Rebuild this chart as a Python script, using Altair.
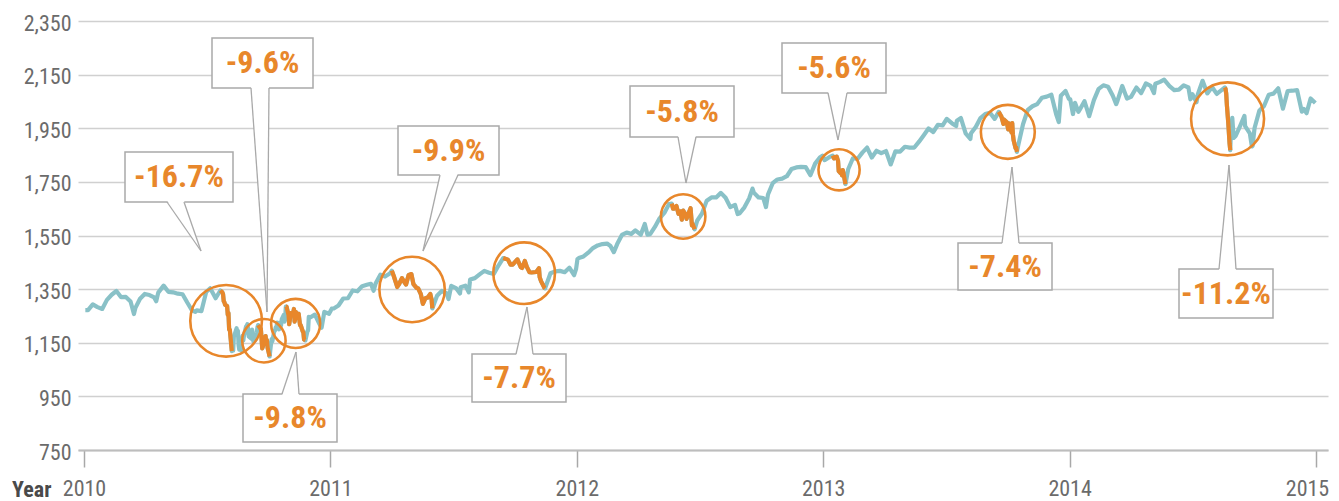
import altair as alt
import pandas as pd
import numpy as np

# ---------------- data ----------------
years = [2010, 2011, 2012, 2013, 2014]

days_2010 = ["01-03", "01-07", "01-14", "01-21", "01-28", "02-04", "02-11", "02-18", "02-25", "03-04", "03-11", "03-16", "03-18", "03-25",
             "04-01", "04-08", "04-15", "04-18", "04-21", "04-29", "05-06", "05-13", "05-20", "05-27", "06-03", "06-10", "06-15", "06-17",
             "06-24", "07-01", "07-07", "07-15",
             "07-22", "07-25", "07-26", "07-27", "07-28", "07-29", "08-01", "08-02", "08-03", "08-04", "08-05", "08-08",
             "08-09", "08-10", "08-11", "08-12", "08-15", "08-16", "08-17", "08-18", "08-19", "08-22", "08-23", "08-24", "08-25", "08-26",
             "08-29", "08-30", "08-31", "09-01", "09-02", "09-06", "09-07", "09-08", "09-09", "09-12", "09-13", "09-14", "09-15",
             "09-16", "09-19", "09-20", "09-21", "09-22", "09-23", "09-26", "09-27", "09-28", "09-29", "09-30", "10-03",
             "10-04", "10-05", "10-06", "10-07", "10-10", "10-11", "10-12", "10-13", "10-14", "10-17", "10-18", "10-19", "10-20", "10-21",
             "10-24", "10-25", "10-26",
             "10-27", "10-28", "10-31", "11-01", "11-02", "11-03", "11-04", "11-07", "11-08", "11-09", "11-10", "11-11", "11-14", "11-15",
             "11-16", "11-17", "11-18", "11-21", "11-22", "11-23", "11-25",
             "11-28", "11-29", "11-30", "12-02", "12-09", "12-16", "12-19", "12-23", "12-30"]
vals_2010 = [1272, 1272, 1293, 1283, 1276, 1310, 1329, 1343, 1320, 1321, 1304, 1257, 1279, 1314,
             1332, 1328, 1319, 1305, 1337, 1363, 1340, 1338, 1333, 1331, 1300, 1271, 1265, 1271,
             1268, 1339, 1353, 1316,
             1345, 1338, 1331, 1305, 1301, 1292, 1287, 1254, 1261, 1200, 1199, 1119,
             1172, 1121, 1173, 1179, 1204, 1193, 1194, 1141, 1124, 1123, 1162, 1177, 1159, 1177,
             1210, 1213, 1219, 1204, 1174, 1165, 1199, 1185, 1154, 1162, 1172, 1188, 1209,
             1216, 1204, 1202, 1167, 1129, 1136, 1163, 1175, 1151, 1160, 1131, 1099,
             1123, 1144, 1164, 1155, 1195, 1195, 1207, 1204, 1225, 1200, 1225, 1209, 1216, 1238,
             1254, 1229, 1242,
             1285, 1285, 1253, 1219, 1237, 1261, 1253, 1262, 1276, 1229, 1240, 1264, 1251, 1258,
             1237, 1216, 1216, 1193, 1188, 1162, 1159,
             1193, 1196, 1247, 1244, 1255, 1219, 1206, 1265, 1258]

days_2011 = ["01-03", "01-06", "01-13", "01-20", "01-27", "02-03", "02-10", "02-17", "02-24", "03-02", "03-06", "03-09", "03-16", "03-23", "03-30",
             "04-02", "04-05", "04-10", "04-13", "04-17", "04-20", "04-23", "04-27", "05-01", "05-04", "05-09", "05-11", "05-15", "05-18",
             "05-22", "05-25", "05-29", "05-31", "06-01",
             "06-08", "06-15", "06-22", "06-25", "06-29", "07-06", "07-12", "07-13", "07-20", "07-25", "07-27", "08-03", "08-10", "08-17",
             "08-24", "08-31", "09-07",
             "09-14", "09-21", "09-25", "09-28", "10-05", "10-10", "10-12", "10-16", "10-19", "10-23", "10-26", "11-02", "11-06", "11-07",
             "11-09", "11-14", "11-15",
             "11-16", "11-23", "11-30", "12-07", "12-14", "12-21", "12-28", "12-31"]
vals_2011 = [1277, 1278, 1289, 1315, 1316, 1345, 1342, 1361, 1366, 1370, 1344, 1371, 1404, 1397, 1408,
             1419, 1398, 1358, 1370, 1391, 1378, 1367, 1403, 1406, 1369, 1354, 1353, 1331, 1295,
             1317, 1318, 1332, 1310, 1278,
             1325, 1343, 1335, 1313, 1362, 1354, 1334, 1357, 1363, 1338, 1386, 1391, 1405, 1418,
             1411, 1407, 1438,
             1466, 1460, 1441, 1441, 1461, 1432, 1429, 1455, 1433, 1413, 1412, 1414, 1428, 1395,
             1380, 1355, 1353,
             1360, 1409, 1416, 1418, 1413, 1430, 1402, 1426]

days_2012 = ["01-02", "01-04", "01-11", "01-18", "01-25", "02-01", "02-08", "02-15", "02-20", "02-25", "03-01", "03-08", "03-15", "03-22",
             "03-28", "04-05", "04-11", "04-15", "04-19", "04-26", "05-03", "05-10", "05-17",
             "05-21", "05-23", "05-24", "05-28", "05-31", "06-03", "06-05", "06-07", "06-11", "06-12", "06-14", "06-18", "06-20", "06-21",
             "06-24",
             "06-28", "07-05", "07-12", "07-19", "07-26", "08-02", "08-09", "08-16", "08-23", "08-27", "08-30", "09-06", "09-13", "09-18",
             "09-20", "09-27", "10-04", "10-08", "10-11", "10-18", "10-25", "11-01", "11-08", "11-15", "11-22", "11-29", "12-06", "12-13",
             "12-20", "12-27", "12-31"]
vals_2012 = [1462, 1466, 1472, 1486, 1503, 1513, 1518, 1520, 1511, 1488, 1518, 1552, 1561, 1556,
             1569, 1553, 1593, 1553, 1555, 1582, 1614, 1634, 1667,
             1669, 1650, 1650, 1660, 1631, 1640, 1609, 1643, 1626, 1612, 1626, 1652, 1588, 1593,
             1573,
             1606, 1632, 1680, 1692, 1692, 1709, 1691, 1656, 1664, 1630, 1633, 1655, 1688, 1725,
             1710, 1692, 1690, 1656, 1703, 1745, 1759, 1762, 1771, 1798, 1804, 1806, 1805, 1775,
             1818, 1841, 1848]

days_2013 = ["01-03", "01-10",
             "01-15", "01-17", "01-21", "01-23", "01-24", "01-27", "01-28", "01-29", "01-30", "01-31", "02-03",
             "02-07", "02-14", "02-21", "02-28", "03-07", "03-14", "03-21", "03-28", "04-04", "04-11", "04-18", "04-25", "05-02", "05-09",
             "05-16", "05-23", "05-30", "06-06", "06-13", "06-20", "06-27", "07-03", "07-11", "07-17", "07-18", "07-24", "07-31", "08-07",
             "08-08", "08-15", "08-22", "08-29", "09-05", "09-12",
             "09-18", "09-22", "09-25", "09-26", "09-30", "10-02", "10-03", "10-07", "10-08", "10-09", "10-10", "10-13", "10-14", "10-15",
             "10-17", "10-24", "10-31", "11-07", "11-14", "11-21", "11-28", "12-05", "12-12", "12-16", "12-19", "12-26", "12-31"]
vals_2013 = [1831, 1842,
             1848, 1838, 1844, 1828, 1790, 1782, 1792, 1774, 1794, 1783, 1742,
             1797, 1838, 1836, 1859, 1878, 1841, 1866, 1857, 1865, 1815, 1864, 1863, 1881, 1878,
             1878, 1900, 1924, 1949, 1936, 1963, 1961, 1985, 1968, 1958, 1978, 1988, 1931, 1910,
             1931, 1955, 1988, 2003, 2008, 1985,
             2011, 1994, 1966, 1982, 1972, 1946, 1968, 1935, 1969, 1928, 1906, 1875, 1878, 1862,
             1887, 1965, 2018, 2032, 2040, 2064, 2068, 2075, 2003, 1973, 2071, 2089, 2059]

days_2014 = ["01-02", "01-06", "01-09", "01-14", "01-16", "01-23", "01-30", "02-06", "02-13", "02-20", "02-27", "03-06", "03-11", "03-13",
             "03-20", "03-27", "04-02", "04-10", "04-17", "04-24", "05-01", "05-06", "05-08", "05-15", "05-21", "05-29", "06-05", "06-12",
             "06-19", "06-26", "06-29", "07-02", "07-08", "07-10", "07-17", "07-24", "07-31", "08-07", "08-14",
             "08-19", "08-20", "08-21", "08-22", "08-24", "08-26", "08-27",
             "08-28", "08-30", "09-01", "09-04", "09-11", "09-17", "09-18", "09-25", "09-28", "09-29", "10-02", "10-09", "10-16", "10-23",
             "10-30", "11-06", "11-13", "11-20", "11-27", "12-04", "12-11", "12-14", "12-18", "12-24", "12-31"]
vals_2014 = [2058, 2003, 2045, 2011, 2019, 2051, 1995, 2055, 2097, 2110, 2105, 2071, 2040, 2053,
             2108, 2061, 2067, 2102, 2081, 2117, 2108, 2081, 2116, 2123, 2131, 2107, 2092, 2094,
             2110, 2102, 2058, 2077, 2047, 2077, 2127, 2080, 2104, 2078, 2092,
             2102, 2097, 2079, 2036, 1971, 1893, 1868,
             1940, 1989, 1914, 1921, 1961, 1996, 1958, 1931, 1882, 1884, 1951, 2015, 2033, 2075,
             2079, 2099, 2023, 2089, 2090, 2092, 2012, 2022, 2006, 2061, 2044]

# highlighted declines
dd_start = ["2010-07-22", "2010-09-16", "2010-10-27", "2011-04-02", "2011-09-14", "2012-05-21", "2013-01-15", "2013-09-18", "2014-08-19"]
dd_end = ["2010-08-08", "2010-10-03", "2010-11-25", "2011-06-01", "2011-11-15", "2012-06-24", "2013-02-03", "2013-10-15", "2014-08-27"]
dd_label = ["-16.7%", "-9.6%", "-9.8%", "-9.9%", "-7.7%", "-5.8%", "-5.6%", "-7.4%", "-11.2%"]

year_ticks = [2010, 2011, 2012, 2013, 2014, 2015]
value_ticks = [750, 950, 1150, 1350, 1550, 1750, 1950, 2150, 2350]

# ---------------- layout / style ----------------
W, H = 1250, 429
PAD_L, PAD_T, PAD_R, PAD_B = 70, 13, 3, 50
PAGE = 8
XDOM = [2009.9757, 2015.0487]
YDOM = [750, 2350]
PX_PER_YEAR = W / (XDOM[1] - XDOM[0])
PX_PER_UNIT = H / (YDOM[1] - YDOM[0])

TEAL = "#89c1c7"
ORANGE = "#e8872b"
GREY_TXT = "#6b6b6b"
BOX_STROKE = "#a9a9a9"
FONT = "Liberation Sans Narrow, Roboto Condensed, Arial Narrow, Roboto, sans-serif"

# annotation callouts in page pixels: label box (x0, x1, y0, y1), pointer base (xL, xR), tip (x, y)
callouts = [
    ((125, 233, 152, 202), (167, 184), (201, 251)),
    ((212, 313, 38, 88), (251, 269), (267, 312)),
    ((243, 337, 394, 442), (282, 299), (296, 352)),
    ((398, 499, 126, 175), (440, 458), (423, 251)),
    ((472, 566, 354, 402), (516, 533), (527, 307)),
    ((630, 734, 86, 137), (678, 696), (686, 183)),
    ((782, 886, 43, 93), (828, 847), (838, 140)),
    ((958, 1052, 243, 290), (1002, 1019), (1012, 167)),
    ((1179, 1273, 269, 318), (1219, 1236), (1229, 165)),
]


def px_t(px):
    return XDOM[0] + (px - PAGE - PAD_L) / PX_PER_YEAR


def py_v(py):
    return YDOM[1] - (py - PAGE - PAD_T) / PX_PER_UNIT


# ---------------- tables ----------------
recs = []
for yr, dl, vl in zip(years, [days_2010, days_2011, days_2012, days_2013, days_2014],
                      [vals_2010, vals_2011, vals_2012, vals_2013, vals_2014]):
    assert len(dl) == len(vl), yr
    for d, v in zip(dl, vl):
        ts = pd.Timestamp(f"{yr}-{d}")
        t = yr + (ts.dayofyear - 1) / (366 if ts.is_leap_year else 365)
        recs.append({"date": ts.strftime("%Y-%m-%d"), "t": t, "v": v})
df = pd.DataFrame(recs).sort_values("t").drop_duplicates("date").reset_index(drop=True)

seg_parts, circ_rows = [], []
for i, (s, e) in enumerate(zip(dd_start, dd_end)):
    sub = df[(df.date >= s) & (df.date <= e)].copy()
    sub["seg"] = i
    seg_parts.append(sub)
    a, b = sub.iloc[0], sub.iloc[-1]
    w = (b.t - a.t) * PX_PER_YEAR
    h = abs(a.v - b.v) * PX_PER_UNIT
    r = 0.5 * np.hypot(w, h) + 5
    circ_rows.append({"t": (a.t + b.t) / 2, "v": (a.v + b.v) / 2, "size": (2 * r) ** 2})
seg_df = pd.concat(seg_parts)
circ_df = pd.DataFrame(circ_rows)

box_rows, fill_rows, side_rows = [], [], []
for i, ((x0, x1, y0, y1), (xl, xr), (tx, ty)) in enumerate(callouts):
    box_rows.append({"t0": px_t(x0), "t1": px_t(x1), "v0": py_v(y0), "v1": py_v(y1),
                     "tc": px_t((x0 + x1) / 2), "vc": py_v((y0 + y1) / 2), "label": dd_label[i]})
    base_y = y1 if ty > y1 else y0
    inside = base_y - 1.5 if ty > y1 else base_y + 1.5
    fill_rows.append({"id": i, "v": py_v(inside), "a": px_t(xl), "b": px_t(xr)})
    fill_rows.append({"id": i, "v": py_v(ty), "a": px_t(tx), "b": px_t(tx)})
    for xb in (xl, xr):
        side_rows.append({"t": px_t(xb), "v": py_v(base_y), "t2": px_t(tx), "v2": py_v(ty)})
box_df = pd.DataFrame(box_rows)
fill_df = pd.DataFrame(fill_rows)
side_df = pd.DataFrame(side_rows)

# ---------------- chart ----------------
xs = alt.Scale(domain=XDOM, nice=False, zero=False)
ys = alt.Scale(domain=YDOM, nice=False, zero=False)

x_axis = alt.Axis(values=year_ticks, format="d", grid=False, domain=True, domainColor="#bdbdbd", domainWidth=2,
                  ticks=True, tickSize=17, tickColor="#a8a8a8", tickWidth=1.5, labelFont=FONT, labelFontSize=22,
                  labelColor=GREY_TXT, labelPadding=11, labelFlush=False, title=None,
                  labelOffset={"condition": {"test": "datum.value == 2015", "value": -9}, "value": 0})
y_axis = alt.Axis(values=value_ticks, format=",d", grid=True, gridColor="#d0d0d0", gridWidth=1.5, domain=False,
                  ticks=False, labelFont=FONT, labelFontSize=22, labelColor=GREY_TXT, labelPadding=7,
                  labelOffset=2, title=None)

blue = alt.Chart(df).mark_line(color=TEAL, strokeWidth=4.2, strokeJoin="round").encode(
    x=alt.X("t:Q", scale=xs, axis=x_axis),
    y=alt.Y("v:Q", scale=ys, axis=y_axis),
    order="t:Q",
)
orange = alt.Chart(seg_df).mark_line(color=ORANGE, strokeWidth=4.2, strokeJoin="round").encode(
    x=alt.X("t:Q", scale=xs, axis=x_axis),
    y=alt.Y("v:Q", scale=ys, axis=y_axis),
    detail="seg:N",
    order="t:Q",
)
circles = alt.Chart(circ_df).mark_point(shape="circle", filled=False, color=ORANGE, strokeWidth=2.6, opacity=1).encode(
    x=alt.X("t:Q", scale=xs, axis=x_axis),
    y=alt.Y("v:Q", scale=ys, axis=y_axis),
    size=alt.Size("size:Q", scale=None),
)
boxes = alt.Chart(box_df).mark_rect(fill="white", stroke=BOX_STROKE, strokeWidth=1.5).encode(
    x=alt.X("t0:Q", scale=xs, axis=x_axis), x2="t1:Q",
    y=alt.Y("v0:Q", scale=ys, axis=y_axis), y2="v1:Q",
)
pfill = alt.Chart(fill_df).mark_area(orient="horizontal", color="white", opacity=1).encode(
    y=alt.Y("v:Q", scale=ys, axis=y_axis),
    x=alt.X("a:Q", scale=xs, axis=x_axis), x2="b:Q",
    detail="id:N",
)
psides = alt.Chart(side_df).mark_rule(color=BOX_STROKE, strokeWidth=1.3).encode(
    x=alt.X("t:Q", scale=xs, axis=x_axis), x2="t2:Q",
    y=alt.Y("v:Q", scale=ys, axis=y_axis), y2="v2:Q",
)
labels = alt.Chart(box_df).mark_text(font=FONT, fontSize=32, fontWeight="bold", color=ORANGE,
                                     align="center", baseline="middle").encode(
    x=alt.X("tc:Q", scale=xs, axis=x_axis),
    y=alt.Y("vc:Q", scale=ys, axis=y_axis),
    text="label:N",
)
year_txt = alt.Chart(pd.DataFrame({"txt": ["Year"]})).mark_text(
    font=FONT, fontSize=22, fontWeight="bold", color="#4a4a4a", align="left", baseline="alphabetic"
).encode(x=alt.value(-66), y=alt.value(475.5), text="txt:N")

chart = alt.layer(blue, orange, circles, boxes, pfill, psides, labels, year_txt).properties(
    width=W, height=H,
    autosize=alt.AutoSizeParams(type="none"),
    padding={"left": PAD_L, "top": PAD_T, "right": PAD_R, "bottom": PAD_B},
).configure(background="white").configure_view(stroke=None)

chart.save("out.html", embed_options={"renderer": "svg", "actions": False})
